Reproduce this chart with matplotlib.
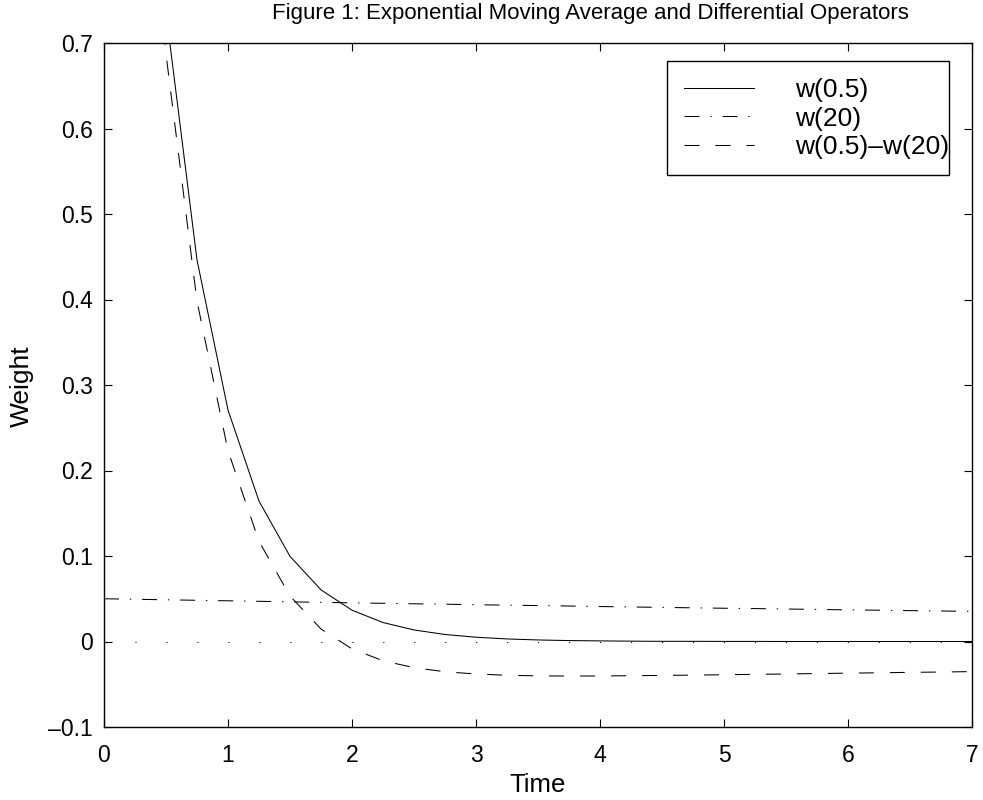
import matplotlib
matplotlib.use("Agg")
import matplotlib.pyplot as plt
from matplotlib.patches import Rectangle

plt.rcParams['font.family'] = ['Liberation Sans', 'DejaVu Sans']
plt.rcParams['lines.scale_dashes'] = False

time = [0.0, 0.25, 0.5, 0.75, 1.0, 1.25, 1.5, 1.75, 2.0, 2.25, 2.5, 2.75,
        3.0, 3.25, 3.5, 3.75, 4.0, 4.25, 4.5, 4.75, 5.0, 5.25, 5.5, 5.75,
        6.0, 6.25, 6.5, 6.75, 7.0]
w_05 = [2.0, 1.2131, 0.7358, 0.4463, 0.2707, 0.1642, 0.0996, 0.0604, 0.0366,
        0.0222, 0.0135, 0.0082, 0.0050, 0.0030, 0.0018, 0.0011, 0.0007, 0.0004,
        0.0002, 0.0002, 0.0001, 0.0001, 0.0, 0.0, 0.0, 0.0, 0.0, 0.0, 0.0]
w_20 = [0.0500, 0.0494, 0.0488, 0.0482, 0.0476, 0.0470, 0.0464, 0.0458, 0.0452,
        0.0447, 0.0441, 0.0436, 0.0430, 0.0425, 0.0420, 0.0415, 0.0409, 0.0404,
        0.0399, 0.0394, 0.0389, 0.0385, 0.0380, 0.0375, 0.0370, 0.0366, 0.0361,
        0.0357, 0.0352]
w_diff = [1.95, 1.1637, 0.6870, 0.3981, 0.2231, 0.1172, 0.0532, 0.0146, -0.0086,
          -0.0225, -0.0306, -0.0354, -0.0380, -0.0395, -0.0402, -0.0404, -0.0403,
          -0.0400, -0.0397, -0.0393, -0.0389, -0.0384, -0.0380, -0.0375, -0.0370,
          -0.0366, -0.0361, -0.0357, -0.0352]
labels = ['w(0.5)', 'w(20)', 'w(0.5)\u2013w(20)']
x_ticks = [0, 1, 2, 3, 4, 5, 6, 7]
y_ticks = [-0.1, 0, 0.1, 0.2, 0.3, 0.4, 0.5, 0.6, 0.7]
y_ticklabels = ['\u20130.1', '0', '0.1', '0.2', '0.3', '0.4', '0.5', '0.6', '0.7']

W, H = 983, 800
fig = plt.figure(figsize=(W / 100, H / 100), dpi=100)
L, R, T, B = 104, 972, 43, 727
ax = fig.add_axes([L / W, 1 - B / H, (R - L) / W, (B - T) / H])

lw = 0.75
ax.plot(time, [0] * len(time), color='black', lw=lw, linestyle=(0, (0.8, 21.5)))
l1, = ax.plot(time, w_05, color='black', lw=lw, linestyle='-')
l2, = ax.plot(time, w_20, color='black', lw=lw, linestyle=(0, (10.8, 7.8, 1.0, 7.8)))
l3, = ax.plot(time, w_diff, color='black', lw=lw, linestyle=(0, (10.8, 11.5)))

ax.set_xlim(0, 7)
ax.set_ylim(-0.1, 0.7)
ax.set_xticks(x_ticks)
ax.set_xticklabels([str(v) for v in x_ticks])
ax.set_yticks(y_ticks)
ax.set_yticklabels(y_ticklabels)
ax.tick_params(direction='in', length=6, width=0.8, labelsize=16.5,
               top=True, right=True)
ax.tick_params(axis='x', pad=12)
ax.tick_params(axis='y', pad=8)
for s in ax.spines.values():
    s.set_linewidth(1.0)

xl = ax.set_xlabel('Time', fontsize=18.5)
xl.set_va('center')
ax.xaxis.set_label_coords(0.5, (B - 785) / (B - T))
yl = ax.set_ylabel('Weight', fontsize=19)
yl.set_va('center')
ax.yaxis.set_label_coords((22 - L) / (R - L), (B - 386) / (B - T))

fig.text(590 / W, 1 - 13 / H, 'Figure 1: Exponential Moving Average and Differential Operators',
         ha='center', va='center', fontsize=16)

# legend box
bx0, bx1, by0, by1 = 667, 949, 61, 175
box = Rectangle((bx0 / W, 1 - by1 / H), (bx1 - bx0) / W, (by1 - by0) / H,
                transform=fig.transFigure, fill=True, facecolor='white',
                edgecolor='black', linewidth=1.0, zorder=4.5, clip_on=False)
ax.add_artist(box)
leg = ax.legend([l1, l2, l3], labels, loc='upper left',
                bbox_to_anchor=(bx0 / W, 1 - by0 / H), bbox_transform=fig.transFigure,
                borderaxespad=0, fontsize=19, handlelength=2.62, handletextpad=1.58,
                frameon=False, borderpad=0.66, labelspacing=0.16)
leg.set_zorder(6)

fig.savefig('out.png', dpi=100)
